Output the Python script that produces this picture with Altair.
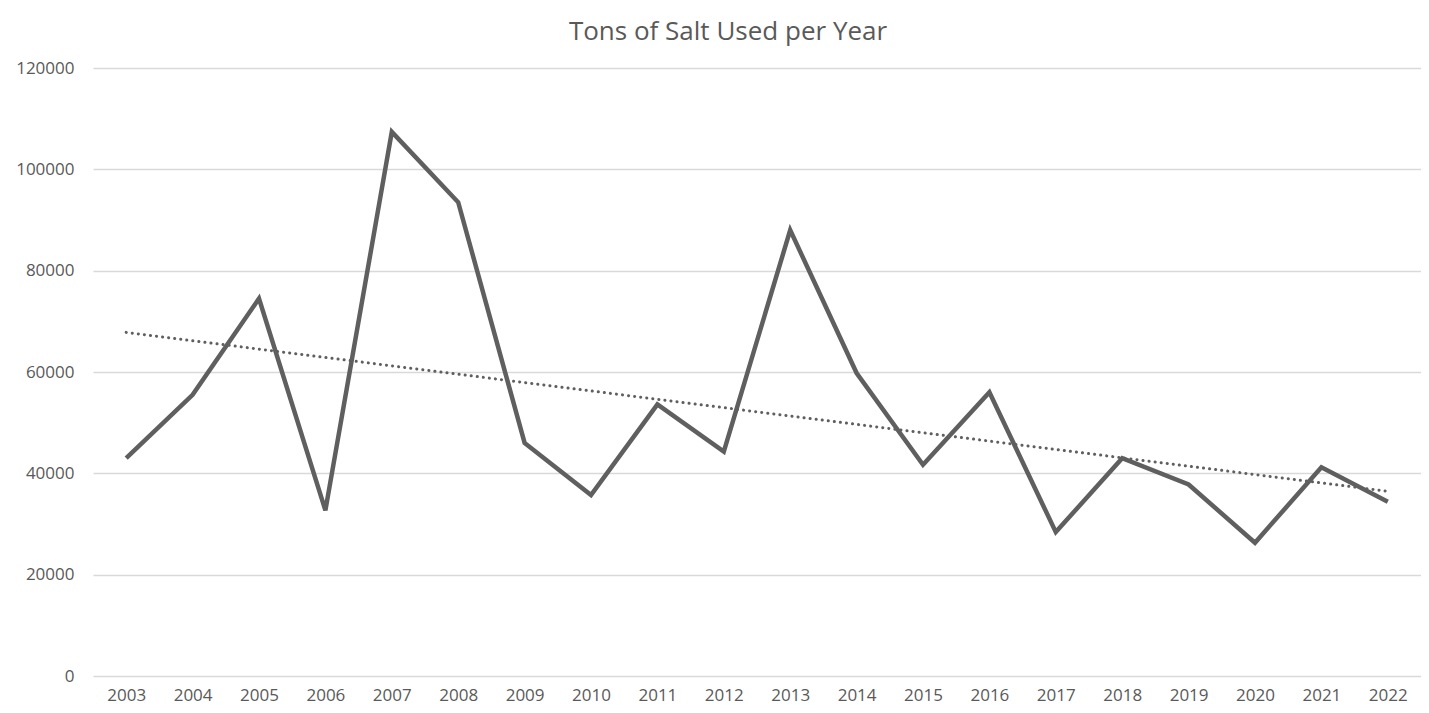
import altair as alt
import pandas as pd

years = list(range(2003, 2023))
tons = [43000, 55500, 74500, 32700, 107400, 93500, 46000, 35700, 53600, 44300,
        88000, 59800, 41700, 56000, 28400, 43000, 37800, 26300, 41200, 34400]
y_ticks = [0, 20000, 40000, 60000, 80000, 100000, 120000]

df = pd.DataFrame({"year": years, "tons": tons})

FONT = "Open Sans"
LINE = "#5f5f5f"

x_enc = alt.X("year:Q", scale=alt.Scale(domain=[2002.5, 2022.5], nice=False, zero=False),
              axis=alt.Axis(values=years, format="d", grid=False, domain=False, ticks=False,
                            labelPadding=11, labelFontSize=17, labelColor="#595959",
                            labelFont=FONT, title=None, labelFlush=False))
y_enc = alt.Y("tons:Q", scale=alt.Scale(domain=[0, 120000], nice=False),
              axis=alt.Axis(values=y_ticks, format="d", grid=True, gridColor="#d9d9d9", gridWidth=1.3,
                            domain=False, ticks=False, labelPadding=19, labelFontSize=17,
                            labelColor="#595959", labelFont=FONT, title=None))

base = alt.Chart(df)
line = base.mark_line(color=LINE, strokeWidth=4.5, strokeJoin="miter").encode(x=x_enc, y=y_enc)
trend = base.transform_regression("year", "tons", method="linear", extent=[2003, 2022]).mark_line(
    color=LINE, strokeWidth=3, strokeDash=[0.1, 6], strokeCap="round").encode(x=x_enc, y=y_enc)

chart = alt.layer(line, trend).properties(
    width=1328, height=608,
    autosize=alt.AutoSizeParams(type="none"),
    title=alt.TitleParams("Tons of Salt Used per Year", fontSize=26, font=FONT, color="#595959",
                          fontWeight="normal", offset=14, anchor="middle", dx=-29),
    padding={"left": 85, "top": 60, "right": 0, "bottom": 29},
).configure_view(stroke=None)

chart.save("out.html", embed_options={"renderer": "svg", "actions": False})
